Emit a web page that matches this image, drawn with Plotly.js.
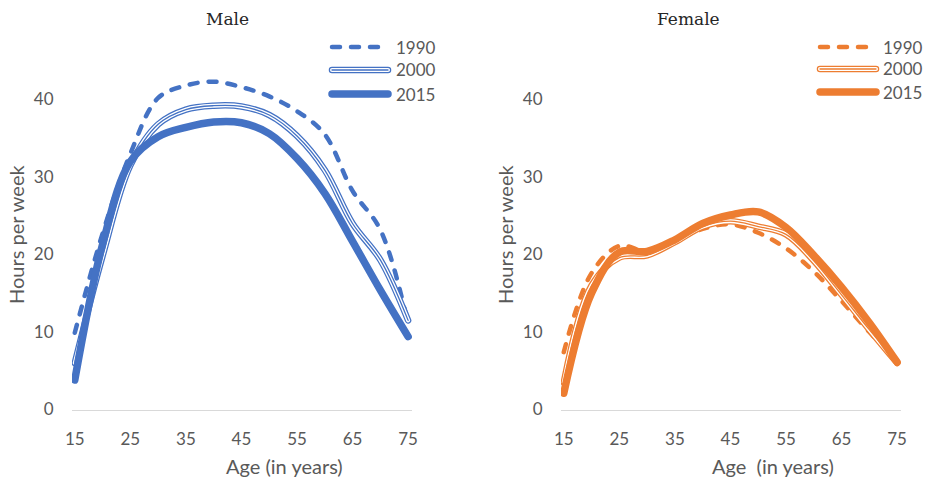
<!DOCTYPE html>
<html>
<head>
<meta charset="utf-8">
<script src="https://cdn.plot.ly/plotly-3.0.1.min.js"></script>
<style>
  html, body { margin: 0; padding: 0; background: #fff; }
  #chart { width: 926px; height: 479px; }
  .js-line, .shapelayer path { stroke-linecap: round; stroke-linejoin: round; }
</style>
</head>
<body>
<div id="chart"></div>
<script>
// Weekly working hours by age, three survey years, men and women
const ages = [15, 20, 25, 30, 35, 40, 45, 50, 55, 60, 65, 70, 75];

const male1990 = [9.9, 22.7, 33.0, 40.2, 41.8, 42.3, 41.6, 40.4, 38.5, 35.5, 28.2, 23.2, 11.0];
const male2000 = [6.0, 19.8, 31.5, 36.8, 38.7, 39.2, 39.1, 38.0, 35.3, 30.9, 24.0, 19.3, 11.5];
const male2015 = [3.8, 21.3, 32.0, 35.2, 36.4, 37.1, 37.0, 35.6, 32.4, 27.9, 21.7, 15.4, 9.4];

const female1990 = [7.4, 17.6, 21.1, 20.4, 21.8, 23.3, 23.9, 22.8, 20.8, 17.8, 14.0, 10.0, 6.3];
const female2000 = [3.5, 16.0, 19.6, 19.9, 21.6, 23.6, 24.3, 23.6, 22.6, 19.2, 14.8, 10.3, 6.0];
const female2015 = [2.1, 15.0, 20.3, 20.4, 21.9, 24.0, 25.1, 25.5, 23.5, 19.9, 15.8, 11.2, 6.1];

const years = ['1990', '2000', '2015'];
const panelTitles = ['Male', 'Female'];
const yTitle = 'Hours per week';
const xTitles = ['Age (in years)', 'Age\u00a0 (in years)'];
const xTicks = [15, 25, 35, 45, 55, 65, 75];
const yTicks = [0, 10, 20, 30, 40];

const BLUE = '#4472C4';
const ORANGE = '#ED7D31';
const GREY = '#595959';
const W = 926, H = 479;

function seriesTraces(x, y90, y00, y15, color, xa, ya) {
  const base = { x: x, mode: 'lines', xaxis: xa, yaxis: ya, hoverinfo: 'skip', showlegend: false };
  const spline = (c, w, dash) => ({ shape: 'spline', smoothing: 1, color: c, width: w, dash: dash || 'solid' });
  return [
    Object.assign({}, base, { y: y90, line: spline(color, 4.5, '8px,11px') }),
    // compound (triple) stroke for the middle year
    Object.assign({}, base, { y: y00, line: spline(color, 6.5) }),
    Object.assign({}, base, { y: y00, line: spline('#ffffff', 4) }),
    Object.assign({}, base, { y: y00, line: spline(color, 1.3) }),
    Object.assign({}, base, { y: y15, line: spline(color, 7.5) })
  ];
}

const data = [].concat(
  seriesTraces(ages, male1990, male2000, male2015, BLUE, 'x', 'y'),
  seriesTraces(ages, female1990, female2000, female2015, ORANGE, 'x2', 'y2')
);

const tickFont = { family: 'Lato, "Open Sans", sans-serif', size: 17, color: GREY };

function xAxis(domain, anchor) {
  return {
    domain: domain, anchor: anchor, range: [14.5, 75.7],
    tickmode: 'array', tickvals: xTicks, ticktext: xTicks.map(String),
    showgrid: false, zeroline: false,
    showline: true, linecolor: '#d9d9d9', linewidth: 1.5,
    ticks: 'outside', ticklen: 14, tickcolor: 'rgba(0,0,0,0)',
    tickfont: tickFont, fixedrange: true
  };
}
function yAxis(anchor) {
  return {
    domain: [69.5 / H, 1 - 22 / H], anchor: anchor, range: [0, 50],
    tickmode: 'array', tickvals: yTicks, ticktext: yTicks.map(String),
    showgrid: false, zeroline: false, showline: false,
    ticks: 'outside', ticklen: 14, tickcolor: 'rgba(0,0,0,0)',
    tickfont: tickFont, fixedrange: true
  };
}

const px = v => v / W;
const py = v => 1 - v / H;

// hand-built legends (one per panel), so the compound stroke can be shown
const annotations = [];
const shapes = [];
function addLegend(x0, x1, textX, rows, color) {
  rows.forEach((cy, i) => {
    const seg = (c, w, dash) => ({
      type: 'line', xref: 'paper', yref: 'paper',
      x0: px(x0), x1: px(x1), y0: py(cy), y1: py(cy),
      line: { color: c, width: w, dash: dash || 'solid' }
    });
    if (i === 0) {
      shapes.push(seg(color, 4.5, '8px,11px'));
    } else if (i === 1) {
      shapes.push(seg(color, 6.5), seg('#ffffff', 4), seg(color, 1.3));
    } else {
      shapes.push(seg(color, 7.5));
    }
    annotations.push({
      xref: 'paper', yref: 'paper', x: px(textX), y: py(cy),
      xanchor: 'left', yanchor: 'middle', showarrow: false,
      text: years[i], font: tickFont
    });
  });
}
addLegend(332, 388, 394, [47, 70, 94], BLUE);
addLegend(820, 876, 881, [47, 69, 92], ORANGE);

// panel titles and axis titles
const titleFont = { family: '"DejaVu Serif", "Liberation Serif", serif', size: 17, color: '#262626' };
const axisTitleFont = { family: 'Lato, "Open Sans", sans-serif', size: 20, color: GREY };
[[227, panelTitles[0]], [688, panelTitles[1]]].forEach(([cx, t]) => {
  annotations.push({ xref: 'paper', yref: 'paper', x: px(cx), y: py(19), xanchor: 'center', yanchor: 'middle',
    showarrow: false, text: t, font: titleFont });
});
[[284, xTitles[0]], [773, xTitles[1]]].forEach(([cx, t]) => {
  annotations.push({ xref: 'paper', yref: 'paper', x: px(cx), y: py(466), xanchor: 'center', yanchor: 'middle',
    showarrow: false, text: t, font: axisTitleFont });
});
[16, 505].forEach(cx => {
  annotations.push({ xref: 'paper', yref: 'paper', x: px(cx), y: py(235), xanchor: 'center', yanchor: 'middle',
    showarrow: false, text: yTitle, textangle: -90, font: axisTitleFont });
});

const layout = {
  width: W, height: H,
  margin: { l: 0, r: 0, t: 0, b: 0 },
  paper_bgcolor: '#ffffff', plot_bgcolor: '#ffffff',
  showlegend: false,
  xaxis: xAxis([px(72), px(412)], 'y'),
  yaxis: yAxis('x'),
  xaxis2: xAxis([px(561), px(901)], 'y2'),
  yaxis2: yAxis('x2'),
  shapes: shapes,
  annotations: annotations
};

Plotly.newPlot('chart', data, layout, { displayModeBar: false, staticPlot: true });
</script>
</body>
</html>
